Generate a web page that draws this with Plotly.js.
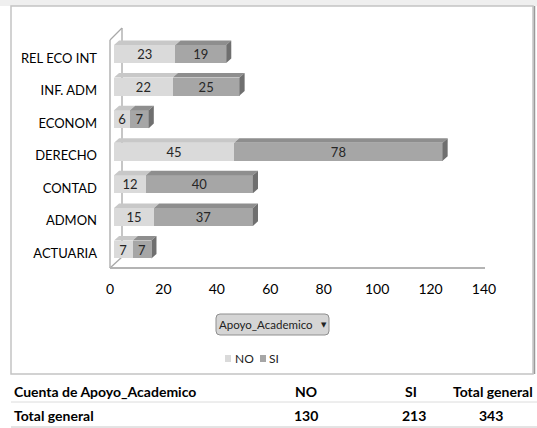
<!DOCTYPE html>
<html>
<head>
<meta charset="utf-8">
<script src="https://cdn.plot.ly/plotly-3.0.1.min.js"></script>
<style>
html,body{margin:0;padding:0;background:#fff;}
#chart{width:537px;height:428px;}
</style>
</head>
<body>
<div id="chart"></div>
<script>
// ---- data (bottom to top as drawn) ----
const categories = ['ACTUARIA','ADMON','CONTAD','DERECHO','ECONOM','INF. ADM','REL ECO INT'];
const noValues   = [7, 15, 12, 45, 6, 22, 23];
const siValues   = [7, 37, 40, 78, 7, 25, 19];
const seriesNames = ['NO', 'SI'];
const xTickVals  = [0, 20, 40, 60, 80, 100, 120, 140];
const tableHeader = ['Cuenta de Apoyo_Academico', 'NO', 'SI', 'Total general'];
const tableTotals = ['Total general', '130', '213', '343'];
const filterLabel = 'Apoyo_Academico';

// ---- helpers (page pixels -> paper) ----
const W = 537, H = 428;
const px = x => x / W;
const py = y => 1 - y / H;
const FONT = 'Lato, "Liberation Sans Narrow", "DejaVu Sans Condensed", sans-serif';

const colNO = '#dadada', colSI = '#a6a6a6';
const topNO = '#c8c8c8', topSI = '#8e8e8e', sideCol = '#6f6f6f';

const yIdx = categories.map((c, i) => i);

const labelFont = {family: FONT, size: 13, color: '#262626'};
const traces = [
  {
    type: 'bar', orientation: 'h', name: seriesNames[0],
    y: yIdx, x: noValues,
    width: 0.55, marker: {color: colNO, line: {width: 0}},
    text: noValues.map(String), textposition: 'inside', insidetextanchor: 'middle',
    textangle: 0, constraintext: 'none', textfont: labelFont, insidetextfont: labelFont,
    showlegend: false, hoverinfo: 'x+name'
  },
  {
    type: 'bar', orientation: 'h', name: seriesNames[1],
    y: yIdx, x: siValues,
    width: 0.55, marker: {color: colSI, line: {width: 0}},
    text: siValues.map(String), textposition: 'inside', insidetextanchor: 'middle',
    textangle: 0, constraintext: 'none', textfont: labelFont, insidetextfont: labelFont,
    showlegend: false, hoverinfo: 'x+name'
  }
];

// ---- 3D faces for the bars, in data coordinates ----
const DX = 1.9;   // depth in x units
const DY = 0.14;  // depth in y units
const HALF = 0.275;
const shapes = [];
yIdx.forEach(i => {
  const yt = i + HALF, yb = i - HALF;
  const segs = [[0, noValues[i], topNO], [noValues[i], noValues[i] + siValues[i], topSI]];
  segs.forEach(([a, b, c]) => {
    shapes.push({type: 'path', xref: 'x', yref: 'y', layer: 'above',
      path: `M${a},${yt} L${a + DX},${yt + DY} L${b + DX},${yt + DY} L${b},${yt} Z`,
      fillcolor: c, line: {width: 0}});
  });
  const t = noValues[i] + siValues[i];
  shapes.push({type: 'path', xref: 'x', yref: 'y', layer: 'above',
    path: `M${t},${yt} L${t + DX},${yt + DY} L${t + DX},${yb + DY} L${t},${yb} Z`,
    fillcolor: sideCol, line: {width: 0}});
});

// ---- frame / walls (paper) ----
const wallCol = '#a8a8a8';
function seg(x0, y0, x1, y1, col, w) {
  return {type: 'line', xref: 'paper', yref: 'paper', layer: 'below',
    x0: px(x0), y0: py(y0), x1: px(x1), y1: py(y1), line: {color: col, width: w}};
}
shapes.push({type: 'rect', xref: 'paper', yref: 'paper', layer: 'below',
  x0: 0, x1: 1, y0: py(6), y1: 1, fillcolor: '#efefef', line: {width: 0}});
shapes.push({type: 'rect', xref: 'paper', yref: 'paper', layer: 'below',
  x0: px(11), x1: px(533), y0: py(374), y1: py(6), fillcolor: 'rgba(0,0,0,0)',
  line: {color: '#c4c4c4', width: 1.5}});
shapes.push(seg(534.5, 6, 534.5, 374, '#9a9a9a', 1.5));
shapes.push(seg(110, 40, 110, 268, wallCol, 1.3));
shapes.push(seg(110, 40, 122, 28, wallCol, 1.3));
shapes.push(seg(122, 28, 122, 257, wallCol, 1.3));
shapes.push(seg(110, 268, 122, 257, wallCol, 1.3));
shapes.push(seg(110, 268, 485, 268, '#b4b4b4', 2));
(function () {
  const x0 = 216, x1 = 329, y0 = 314, y1 = 335, r = 4;
  const p = `M${px(x0 + r)},${py(y0)} L${px(x1 - r)},${py(y0)} Q${px(x1)},${py(y0)} ${px(x1)},${py(y0 + r)} ` +
            `L${px(x1)},${py(y1 - r)} Q${px(x1)},${py(y1)} ${px(x1 - r)},${py(y1)} ` +
            `L${px(x0 + r)},${py(y1)} Q${px(x0)},${py(y1)} ${px(x0)},${py(y1 - r)} ` +
            `L${px(x0)},${py(y0 + r)} Q${px(x0)},${py(y0)} ${px(x0 + r)},${py(y0)} Z`;
  shapes.push({type: 'path', xref: 'paper', yref: 'paper', layer: 'above', path: p,
    fillcolor: '#d5d5d5', line: {color: '#8f8f8f', width: 1}});
})();
shapes.push({type: 'rect', xref: 'paper', yref: 'paper', x0: px(225), x1: px(231), y0: py(362), y1: py(355),
  fillcolor: colNO, line: {width: 0}});
shapes.push({type: 'rect', xref: 'paper', yref: 'paper', x0: px(260), x1: px(266), y0: py(362), y1: py(355),
  fillcolor: colSI, line: {width: 0}});
shapes.push(seg(11, 402, 537, 402, '#dcdcdc', 1));
shapes.push(seg(11, 427, 537, 427, '#c8c8c8', 1));

// ---- annotations ----
const ann = [];
function txt(t, x, y, opts) {
  ann.push(Object.assign({xref: 'paper', yref: 'paper', x: px(x), y: py(y), text: t, showarrow: false,
    xanchor: 'center', yanchor: 'middle', font: {family: FONT, size: 13, color: '#000'}}, opts || {}));
}
txt(filterLabel, 265.5, 324.5, {font: {family: FONT, size: 11.5, color: '#222'}});
txt('▼', 324, 324.5, {font: {family: 'DejaVu Sans', size: 7, color: '#222'}});
txt(seriesNames[0], 233, 358.5, {xanchor: 'left', font: {family: FONT, size: 12, color: '#222'}});
txt(seriesNames[1], 267, 358.5, {xanchor: 'left', font: {family: FONT, size: 12, color: '#222'}});
const bold = {family: FONT, size: 14, color: '#000', weight: 'bold'};
txt(tableHeader[0], 12, 391.5, {xanchor: 'left', font: bold});
txt(tableHeader[1], 306, 391.5, {font: bold});
txt(tableHeader[2], 411, 391.5, {font: bold});
txt(tableHeader[3], 535, 391.5, {xanchor: 'right', font: bold});
txt(tableTotals[0], 12, 415, {xanchor: 'left', font: bold});
txt(tableTotals[1], 306, 415, {font: bold});
txt(tableTotals[2], 414, 415, {font: bold});
txt(tableTotals[3], 490.5, 415, {font: bold});

const layout = {
  width: W, height: H,
  margin: {l: 0, r: 0, t: 0, b: 0},
  paper_bgcolor: '#ffffff', plot_bgcolor: 'rgba(0,0,0,0)',
  barmode: 'stack', bargap: 0.45,
  showlegend: false,
  font: {family: FONT, size: 13, color: '#000'},
  xaxis: {
    domain: [px(114), px(488)], range: [0, 140], anchor: 'y',
    tickvals: xTickVals, ticktext: xTickVals.map(String),
    showgrid: false, zeroline: false, showline: false, ticks: '',
    ticklabelstandoff: 10, ticklabelshift: -4,
    tickfont: {family: FONT, size: 14, color: '#000'}
  },
  yaxis: {
    domain: [py(269.05), py(34.45)], range: [-0.6, 6.6], anchor: 'x',
    tickvals: yIdx, ticktext: categories,
    showgrid: false, zeroline: false, showline: false, ticks: '',
    ticklabelstandoff: 16, ticklabelshift: 4,
    tickfont: {family: FONT, size: 13, color: '#000'}
  },
  shapes: shapes,
  annotations: ann
};

Plotly.newPlot('chart', traces, layout, {displayModeBar: false, staticPlot: true});
</script>
</body>
</html>
